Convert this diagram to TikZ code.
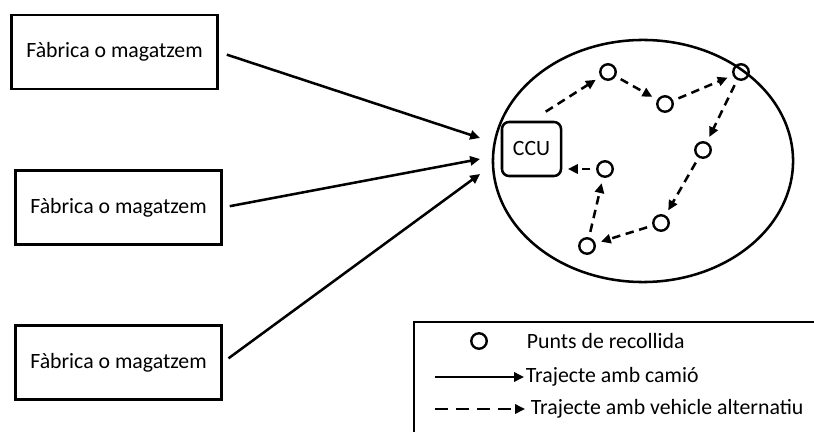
\documentclass[tikz,border=0pt]{standalone}
\usepackage{fontspec}
\setmainfont{Carlito}
\usetikzlibrary{arrows.meta,shapes.geometric}

\tikzset{
  caixa/.style={draw, line width=1.8pt, minimum width=5.15cm, minimum height=1.85cm},
  punt/.style={draw, circle, line width=1.7pt, minimum size=11pt, inner sep=0pt},
  camio/.style={line width=1.8pt, -{Triangle[length=7pt,width=6.5pt]}},
  alternatiu/.style={camio, dash pattern=on 6pt off 4pt, shorten <=4pt, shorten >=4pt},
}

\begin{document}
\begin{tikzpicture}[x=0.025cm, y=-0.025cm, font=\fontsize{15.5}{18}\selectfont]
			
			\useasboundingbox (0,0) rectangle (814,432);
			\clip (0,0) rectangle (814,432);
			
			% Fabriques
			\node[caixa] (fab1) at (114.5,52) {Fàbrica o magatzem};
			\node[caixa] (fab2) at (118.5,207.5) {Fàbrica o magatzem};
			\node[caixa] (fab3) at (118.5,362.5) {Fàbrica o magatzem};
			
			% Zona urbana i CCU
			\node[draw, ellipse, line width=1.8pt, minimum width=7.5cm, minimum height=6.05cm] (zona) at (643,161) {};
			\node[draw, rounded corners=5pt, line width=1.8pt, minimum width=1.475cm, minimum height=1.35cm] (ccu) at (531.5,149) {CCU};
			
			% Trajectes amb camio
			\coordinate (e1) at (480,138);
			\coordinate (e2) at (480,159);
			\coordinate (e3) at (480,174);
			\draw[camio, shorten <=6pt] (fab1.east) -- (e1);
			\draw[camio, shorten <=5pt] (fab2.east) -- (e2);
			\draw[camio, shorten <=5pt] (fab3.east) -- (e3);
			
			% Punts de recollida
			\foreach \nom/\x/\y in {p1/608/72,p2/665/104,p3/741/72,p4/703/150,p5/661/223,p6/587/246,p7/605/169}
			\node[punt] (\nom) at (\x,\y) {};
			
			% Ruta amb vehicle alternatiu
			\draw[alternatiu, shorten <=12pt] (ccu.north) -- (p1);
			\foreach \a/\b in {p1/p2,p2/p3,p3/p4,p4/p5,p5/p6,p6/p7}
			\draw[alternatiu] (\a) -- (\b);
			\draw[alternatiu, shorten >=4pt] (p7) -- (p7 -| ccu.east);
			
			% Llegenda
			\draw[line width=1pt] (414,322) rectangle (840,450);
			\node[punt] (lpunt) at (479,341) {};
			\node[anchor=west] (lt1) at (522,341) {Punts de recollida};
			\coordinate (la1) at (435,377);
			\coordinate (lb1) at (524,377);
			\draw[camio] (la1) -- (lb1);
			\node[anchor=west] (lt2) at (521,377) {Trajecte amb camió};
			\coordinate (la2) at (435,409);
			\coordinate (lb2) at (525,409);
			\draw[camio, dash pattern=on 9pt off 6pt] (la2) -- (lb2);
			\node[anchor=west] (lt3) at (526,409) {Trajecte amb vehicle alternatiu};
			
		\end{tikzpicture}
\end{document}
